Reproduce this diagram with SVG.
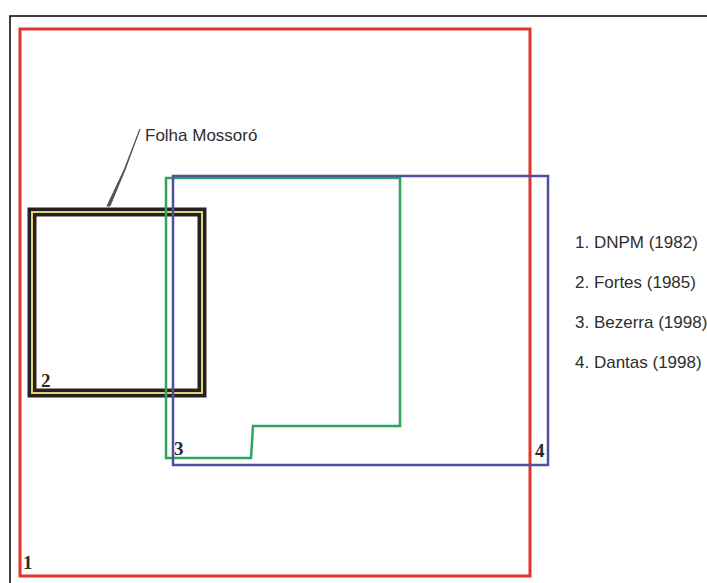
<svg xmlns="http://www.w3.org/2000/svg" width="707" height="583" viewBox="0 0 707 583">
<style>
.num{font-family:"Liberation Serif",serif;font-weight:bold;font-size:19px;fill:#2a2a2a}
.leg{font-family:"Liberation Sans",sans-serif;font-size:17px;fill:#2e2e2e}
</style>
<rect width="707" height="583" fill="#fff"/>
<g id="frame"><path d="M10,584 V16 H708" fill="none" stroke="#000" stroke-width="1.5"/></g>
<g id="area1">
<rect x="20" y="29" width="510" height="547" fill="none" stroke="#e5322b" stroke-width="3"/>
<text class="num" x="23" y="569">1</text>
</g>
<g id="area2">
<rect x="32" y="212" width="170" height="181" fill="none" stroke="#222" stroke-width="9"/>
<rect x="32" y="212" width="170" height="181" fill="none" stroke="#e8d070" stroke-width="2"/>
<text class="num" x="41" y="387">2</text>
</g>
<g id="area3">
<path d="M166,178 H400 V426 H253 L251,458 H166 Z" fill="none" stroke="#2fa55c" stroke-width="2.5"/>
<text class="num" x="174" y="455">3</text>
</g>
<g id="area4">
<rect x="173" y="176" width="375" height="289" fill="none" stroke="#4f4fa0" stroke-width="2.5"/>
<text class="num" x="535" y="457">4</text>
</g>
<g id="connectors">
<path d="M140,129 L124,170 L107,206 L110,206 L125,170 Z" fill="#555" stroke="#555" stroke-width="1"/>
</g>
<g id="label-folha"><text class="leg" x="145" y="141" font-size="17">Folha Mossoró</text></g>
<g id="legend">
<text class="leg" x="575" y="248" font-size="18">1. DNPM (1982)</text>
<text class="leg" x="575" y="288" font-size="18">2. Fortes (1985)</text>
<text class="leg" x="575" y="328" font-size="18">3. Bezerra (1998)</text>
<text class="leg" x="575" y="368" font-size="18">4. Dantas (1998)</text>
</g>
</svg>
